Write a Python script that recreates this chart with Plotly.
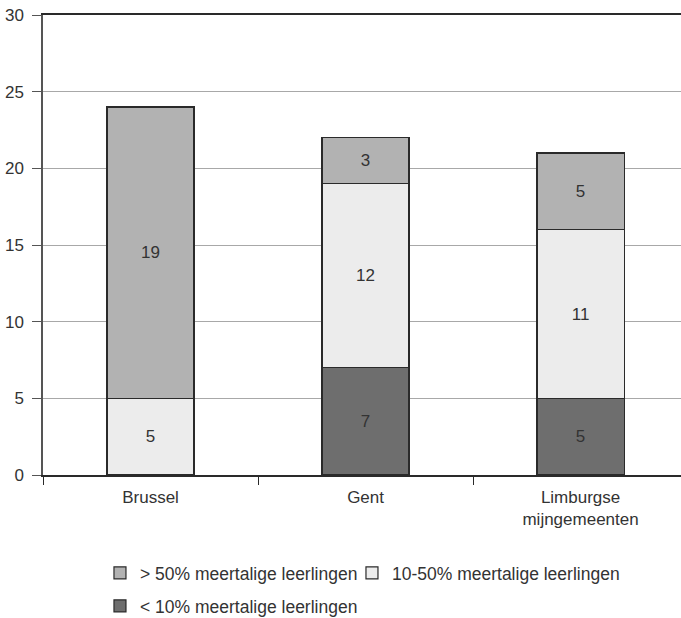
import plotly.graph_objects as go

categories = ["Brussel", "Gent", "Limburgse<br>mijngemeenten"]
series_names = ["> 50% meertalige leerlingen", "10-50% meertalige leerlingen", "< 10% meertalige leerlingen"]
low = [0, 7, 5]
mid = [5, 12, 11]
high = [19, 3, 5]
y_ticks = [0, 5, 10, 15, 20, 25, 30]

FONT = "Liberation Sans, Arial, sans-serif"
TXT = "#333333"
EDGE = "#2a2a2a"

def lbl(vals):
    return [str(v) if v else "" for v in vals]

fig = go.Figure()
fig.add_trace(go.Bar(x=categories, y=low, name=series_names[2],
                     marker=dict(color="#6e6e6e", line=dict(color=EDGE, width=1.2)),
                     text=lbl(low), legend="legend2"))
fig.add_trace(go.Bar(x=categories, y=mid, name=series_names[1],
                     marker=dict(color="#ececec", line=dict(color=EDGE, width=1.2)),
                     text=lbl(mid), legendrank=2, legendwidth=240))
fig.add_trace(go.Bar(x=categories, y=high, name=series_names[0],
                     marker=dict(color="#b2b2b2", line=dict(color=EDGE, width=1.2)),
                     text=lbl(high), legendrank=1, legendwidth=207))

fig.update_traces(textposition="inside", insidetextanchor="middle", textangle=0,
                  textfont=dict(family=FONT, size=17, color=TXT),
                  insidetextfont=dict(family=FONT, size=17, color=TXT))

legend_common = dict(orientation="h", xanchor="left", yanchor="top", itemwidth=30,
                     font=dict(family=FONT, size=17.5, color=TXT), bgcolor="rgba(0,0,0,0)")

fig.update_layout(
    width=681, height=618,
    barmode="stack", bargap=0.595,
    margin=dict(l=43, r=0, t=15, b=143, autoexpand=False),
    paper_bgcolor="white", plot_bgcolor="white",
    font=dict(family=FONT, size=17, color=TXT),
    uniformtext=dict(minsize=17, mode="show"),
    showlegend=True,
    legend=dict(x=0.0893, y=-0.1739, traceorder="normal", **legend_common),
    legend2=dict(x=0.0893, y=-0.2457, **legend_common),
    xaxis=dict(range=[-0.5, 2.467], tickson="boundaries", ticks="outside", ticklen=8, tickcolor=EDGE,
               showline=True, linecolor=EDGE, linewidth=1.5, mirror=True, showgrid=False,
               ticklabelstandoff=6, tickfont=dict(family=FONT, size=17, color=TXT)),
    yaxis=dict(range=[0, 30], tickvals=y_ticks, ticks="outside", ticklen=9, tickcolor="#555555",
               showline=True, linecolor="#555555", linewidth=1.5, showgrid=True, gridcolor="#a8a8a8",
               gridwidth=1, zeroline=False, ticklabelstandoff=5,
               tickfont=dict(family=FONT, size=17, color=TXT)),
)

fig.write_html("out.html")
